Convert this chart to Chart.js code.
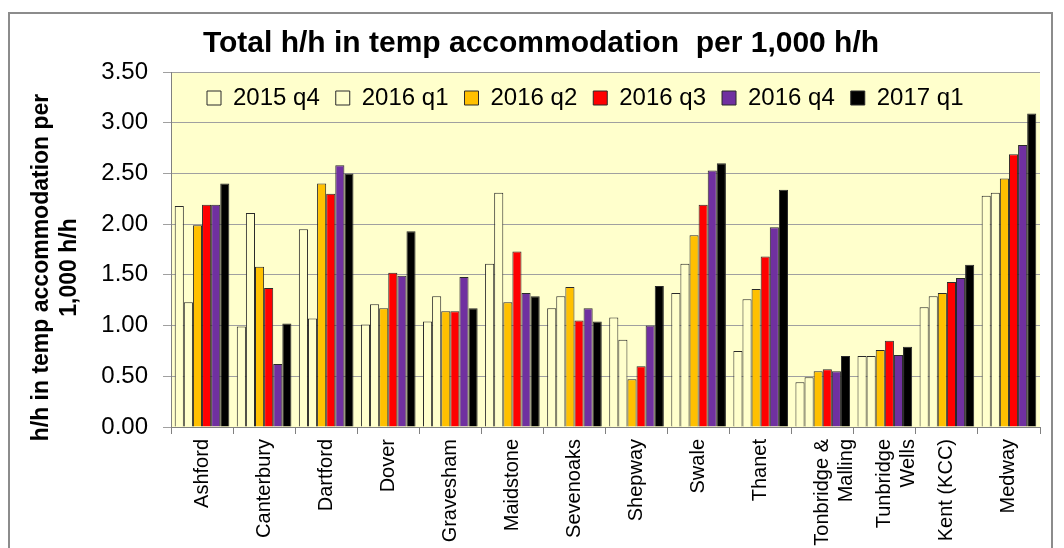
<!DOCTYPE html>
<html>
<head>
<meta charset="utf-8">
<script src="https://cdn.jsdelivr.net/npm/chart.js@4.4.1/dist/chart.umd.min.js"></script>
<style>
  html, body { margin: 0; padding: 0; background: #fff; }
  #wrap { width: 1064px; height: 548px; }
</style>
</head>
<body>
<div id="wrap"><canvas id="chart" width="1064" height="548"></canvas></div>
<script>
// areas along the x axis
const areas = [
    "Ashford", "Canterbury", "Dartford", "Dover", "Gravesham", "Maidstone",
    "Sevenoaks", "Shepway", "Swale", "Thanet", ["Tonbridge &", "Malling"],
    ["Tunbridge", "Wells"], "Kent (KCC)", "Medway"
];

// h/h in temp accommodation per 1,000 h/h, by quarter
const q2015q4 = [2.18, 0.99, 1.95, 1.01, 1.04, 1.61, 1.17, 1.08, 1.32, 0.75, 0.44, 0.70, 1.18, 2.28];
const q2016q1 = [1.23, 2.11, 1.07, 1.21, 1.29, 2.31, 1.29, 0.86, 1.61, 1.26, 0.49, 0.70, 1.29, 2.31];
const q2016q2 = [1.99, 1.58, 2.40, 1.17, 1.14, 1.23, 1.38, 0.47, 1.89, 1.36, 0.55, 0.76, 1.32, 2.45];
const q2016q3 = [2.19, 1.37, 2.30, 1.52, 1.14, 1.73, 1.05, 0.60, 2.19, 1.68, 0.57, 0.85, 1.43, 2.69];
const q2016q4 = [2.19, 0.62, 2.58, 1.49, 1.48, 1.32, 1.17, 1.00, 2.53, 1.97, 0.55, 0.71, 1.47, 2.78];
const q2017q1 = [2.40, 1.02, 2.50, 1.93, 1.17, 1.29, 1.04, 1.39, 2.60, 2.34, 0.70, 0.79, 1.60, 3.09];

const FONT = "'Liberation Sans', Arial, sans-serif";

function series(label, data, color) {
    return {
        label: label,
        data: data,
        backgroundColor: color,
        borderColor: "#2a2a2a",
        borderWidth: 1,
        categoryPercentage: 0.88,
        barPercentage: 1.0,
    };
}

// pale yellow plot area + grey frame round the whole chart
const background = {
    id: "background",
    beforeDraw(chart) {
        const { ctx, chartArea } = chart;
        ctx.save();
        ctx.fillStyle = "#ffffcc";
        ctx.fillRect(chartArea.left, chartArea.top, chartArea.right - chartArea.left, chartArea.bottom - chartArea.top);
        ctx.strokeStyle = "#8c8c8c";
        ctx.lineWidth = 2;
        ctx.strokeRect(9, 13, 1043, 560);
        ctx.restore();
    },
};

// legend sits inside the plot area in one row; a few position nudges
const tweaks = {
    id: "tweaks",
    afterInit(chart) {
        chart.legend.isHorizontal = () => true;
    },
    afterLayout(chart) {
        const lg = chart.legend;
        const area = chart.chartArea;
        lg.left = area.left + 20;
        lg.right = area.right;
        lg.top = area.top - 2;
        lg.bottom = lg.top + lg.height;
        // title is a little right of centre in the original
        chart.titleBlock.left += 16;
        chart.titleBlock.right += 16;
        // y title sits a bit below the middle of the axis
        const y = chart.scales.y;
        if (!y._shifted) {
            const drawTitle = y.drawTitle;
            y.drawTitle = function () {
                this.ctx.save();
                this.ctx.translate(0, 18);
                drawTitle.call(this);
                this.ctx.restore();
            };
            y._shifted = true;
        }
    },
};

new Chart(document.getElementById("chart"), {
    type: "bar",
    data: {
        labels: areas,
        datasets: [
            series("2015 q4", q2015q4, "#ffffcc"),
            series("2016 q1", q2016q1, "#ffffcc"),
            series("2016 q2", q2016q2, "#ffc000"),
            series("2016 q3", q2016q3, "#ff0000"),
            series("2016 q4", q2016q4, "#7030a0"),
            series("2017 q1", q2017q1, "#000000"),
        ],
    },
    options: {
        responsive: false,
        animation: false,
        layout: { padding: { left: 10, right: 24, top: 0, bottom: 0 } },
        plugins: {
            title: {
                display: true,
                text: "Total h/h in temp accommodation  per 1,000 h/h",
                color: "#000",
                font: { family: FONT, size: 30, weight: "bold" },
                padding: { top: 26, bottom: 10 },
            },
            legend: {
                position: "chartArea",
                align: "start",
                labels: {
                    color: "#000",
                    font: { family: FONT, size: 24 },
                    boxWidth: 14,
                    boxHeight: 14,
                    padding: 16,
                },
            },
            tooltip: { enabled: false },
        },
        scales: {
            x: {
                afterFit(scale) { scale.height = 121; },
                grid: { drawOnChartArea: false, tickLength: 7, color: "#808080" },
                border: { color: "#808080" },
                ticks: {
                    color: "#000",
                    font: { family: FONT, size: 20 },
                    minRotation: 90,
                    maxRotation: 90,
                    autoSkip: false,
                    padding: 5,
                },
            },
            y: {
                min: 0,
                max: 3.5,
                afterFit(scale) { scale.width = 161; },
                grid: { color: "#a0a0a0", tickLength: 8 },
                border: { color: "#808080" },
                ticks: {
                    stepSize: 0.5,
                    color: "#000",
                    font: { family: FONT, size: 24 },
                    padding: 15,
                    callback: (v) => Number(v).toFixed(2),
                },
                title: {
                    display: true,
                    text: ["h/h in temp accommodation per", "1,000 h/h"],
                    color: "#000",
                    font: { family: FONT, size: 23, weight: "bold", lineHeight: 1.2 },
                    padding: { top: 18, bottom: 0 },
                },
            },
        },
    },
    plugins: [background, tweaks],
});
</script>
</body>
</html>
